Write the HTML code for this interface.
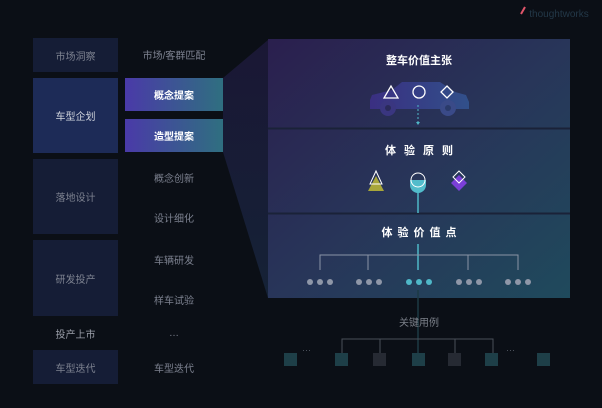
<!DOCTYPE html>
<html><head><meta charset="utf-8"><style>
body{margin:0;width:602px;height:408px;background:#0b0f16;overflow:hidden;font-family:"Liberation Sans","Noto Sans CJK SC",sans-serif;position:relative}
.a{position:absolute;display:flex;align-items:center;justify-content:center;font-size:10px}
.lb{background:#151d36;color:#7d8290}
.t{color:#7d8290}
</style></head><body>
<svg width="602" height="408" style="position:absolute;left:0;top:0">
<defs>
<linearGradient id="pg" x1="0" y1="0" x2="1" y2="1"><stop offset="0" stop-color="#2a1f4e"/><stop offset="0.5" stop-color="#283559"/><stop offset="1" stop-color="#1f4a5c"/></linearGradient>
<linearGradient id="bg" x1="0" y1="0" x2="1" y2="0"><stop offset="0" stop-color="#4a3aa8"/><stop offset="1" stop-color="#2f6f80"/></linearGradient>
<linearGradient id="tz" x1="0" y1="0" x2="0" y2="1"><stop offset="0" stop-color="#1a1735"/><stop offset="1" stop-color="#152236"/></linearGradient>
<linearGradient id="car" x1="0" y1="0" x2="1" y2="0"><stop offset="0" stop-color="#3a2f82"/><stop offset="1" stop-color="#31508a"/></linearGradient>
</defs>
<polygon points="223,78 268,40 268,298 223,152" fill="url(#tz)"/>
<rect x="268" y="39" width="302" height="259" fill="url(#pg)"/>
<line x1="268" y1="128.5" x2="570" y2="128.5" stroke="#1a2238" stroke-width="2"/>
<line x1="268" y1="213.5" x2="570" y2="213.5" stroke="#1a2238" stroke-width="2"/>
<rect x="125" y="78" width="98" height="33" fill="url(#bg)"/>
<rect x="125" y="119" width="98" height="33" fill="url(#bg)"/>
<!-- car -->
<path d="M370,100 L372,95 L392,90 L402,82 L440,82 L455,92 L466,95 L469,102 L469,109 L370,109 Z" fill="url(#car)"/>
<circle cx="388" cy="108" r="8" fill="#3a3680"/><circle cx="388" cy="108" r="3" fill="#2a2a5a"/>
<circle cx="448" cy="108" r="8" fill="#3a4a88"/><circle cx="448" cy="108" r="3" fill="#2a3a6a"/>
<polygon points="391,86 384,98 398,98" fill="none" stroke="#fff" stroke-width="1.3"/>
<circle cx="419" cy="92" r="6" fill="none" stroke="#fff" stroke-width="1.3"/>
<polygon points="447,86 453,92 447,98 441,92" fill="none" stroke="#fff" stroke-width="1.3"/>
<line x1="418" y1="105" x2="418" y2="124" stroke="#4fb8c8" stroke-dasharray="2,2"/>
<polygon points="416,122 420,122 418,125" fill="#4fb8c8"/>
<!-- principles -->
<polygon points="376,176 368,191 384,191" fill="#a8a63a"/>
<polygon points="376,171 370,184 382,184" fill="none" stroke="#fff" stroke-width="1"/>
<line x1="418" y1="185" x2="418" y2="213" stroke="#4fb8c8" stroke-width="1.5"/>
<path d="M410,180 L426,180 L426,185 A8,8 0 0 1 410,185 Z" fill="#52bccb"/>
<circle cx="418" cy="180" r="7" fill="none" stroke="#fff" stroke-width="1"/>
<polygon points="459,175 467,183 459,191 451,183" fill="#7b3fd8"/>
<polygon points="459,171 465,177 459,183 453,177" fill="none" stroke="#fff" stroke-width="1"/>
<!-- value tree -->
<line x1="418" y1="244" x2="418" y2="270" stroke="#4fb8c8" stroke-width="1.5"/>
<path d="M320,270 V255 H518 V270 M368,255 V270 M468,255 V270" fill="none" stroke="#8a94a6" stroke-width="1"/>
<g fill="#8f97a8">
<circle cx="310" cy="282" r="3"/><circle cx="320" cy="282" r="3"/><circle cx="330" cy="282" r="3"/>
<circle cx="359" cy="282" r="3"/><circle cx="369" cy="282" r="3"/><circle cx="379" cy="282" r="3"/>
<circle cx="459" cy="282" r="3"/><circle cx="469" cy="282" r="3"/><circle cx="479" cy="282" r="3"/>
<circle cx="508" cy="282" r="3"/><circle cx="518" cy="282" r="3"/><circle cx="528" cy="282" r="3"/>
</g>
<g fill="#4fb8c8"><circle cx="409" cy="282" r="3"/><circle cx="419" cy="282" r="3"/><circle cx="429" cy="282" r="3"/></g>
<line x1="418" y1="290" x2="418" y2="360" stroke="#1d3a44" stroke-width="1.5"/>
<path d="M342,353 V339 H493 V353 M380,339 V353 M455,339 V353" fill="none" stroke="#4a4f58" stroke-width="1"/>
<g fill="#1e3f48"><rect x="284" y="353" width="13" height="13"/><rect x="335" y="353" width="13" height="13"/><rect x="412" y="353" width="13" height="13"/><rect x="485" y="353" width="13" height="13"/><rect x="537" y="353" width="13" height="13"/></g>
<g fill="#262a33"><rect x="373" y="353" width="13" height="13"/><rect x="448" y="353" width="13" height="13"/></g>
<line x1="521" y1="14" x2="525" y2="7" stroke="#e0556a" stroke-width="2"/>
</svg>
<div class="a" style="left:524px;top:5px;width:70px;height:18px;color:#233848;font-size:10px">thoughtworks</div>
<div class="a" style="left:310px;top:600px"></div>
<div class="a" style="left:302px;top:345px;color:#555b66;font-size:9px">···</div>
<div class="a" style="left:506px;top:345px;color:#555b66;font-size:9px">···</div>

<div class="a lb" style="left:33px;top:38px;width:85px;height:34px">市场洞察</div>
<div class="a lb" style="left:33px;top:78px;width:85px;height:75px;background:#1d2b57;color:#d0d4dc">车型企划</div>
<div class="a lb" style="left:33px;top:159px;width:85px;height:75px">落地设计</div>
<div class="a lb" style="left:33px;top:240px;width:85px;height:76px">研发投产</div>
<div class="a t" style="left:33px;top:324px;width:85px;height:18px;color:#9a9ea8">投产上市</div>
<div class="a lb" style="left:33px;top:350px;width:85px;height:34px">车型迭代</div>

<div class="a t" style="left:125px;top:44px;width:98px;height:20px">市场/客群匹配</div>
<div class="a" style="left:125px;top:78px;width:98px;height:33px;color:#fff;font-weight:bold">概念提案</div>
<div class="a" style="left:125px;top:119px;width:98px;height:33px;color:#fff;font-weight:bold">造型提案</div>
<div class="a t" style="left:125px;top:167px;width:98px;height:20px">概念创新</div>
<div class="a t" style="left:125px;top:207px;width:98px;height:20px">设计细化</div>
<div class="a t" style="left:125px;top:249px;width:98px;height:20px">车辆研发</div>
<div class="a t" style="left:125px;top:289px;width:98px;height:20px">样车试验</div>
<div class="a t" style="left:125px;top:323px;width:98px;height:20px">…</div>
<div class="a t" style="left:125px;top:357px;width:98px;height:20px">车型迭代</div>

<div class="a" style="left:268px;top:50px;width:302px;height:20px;color:#fff;font-weight:bold;font-size:11px">整车价值主张</div>
<div class="a" style="left:268px;top:140px;width:302px;height:20px;color:#fff;font-weight:bold;font-size:11px;letter-spacing:8px;padding-left:8px;box-sizing:border-box">体验原则</div>
<div class="a" style="left:268px;top:222px;width:302px;height:20px;color:#fff;font-weight:bold;font-size:11px;letter-spacing:5px;padding-left:5px;box-sizing:border-box">体验价值点</div>
<div class="a" style="left:268px;top:311px;width:302px;height:20px;color:#7a7f88;font-size:10px">关键用例</div>
</body></html>
